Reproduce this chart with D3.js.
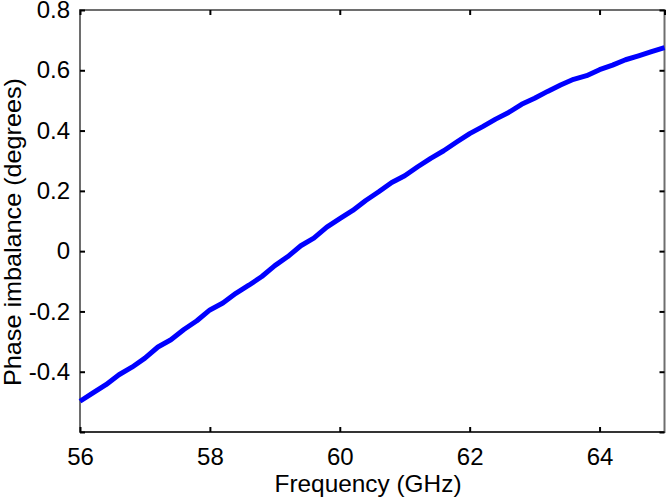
<!DOCTYPE html>
<html>
<head>
<meta charset="utf-8">
<script src="https://cdn.jsdelivr.net/npm/d3@7"></script>
<style>
  body { margin: 0; background: #fff; }
  svg { display: block; }
  .tick-label { font-family: "Liberation Sans", Arial, sans-serif; font-size: 24px; fill: #000; }
  .axis-title { font-family: "Liberation Sans", Arial, sans-serif; font-size: 24px; fill: #000; }
</style>
</head>
<body>
<div id="chart"></div>
<script>
// frequency (GHz) and phase imbalance (degrees)
const freq = [56.0, 56.2, 56.4, 56.6, 56.8, 57.0, 57.2, 57.4, 57.6, 57.8,
              58.0, 58.2, 58.4, 58.6, 58.8, 59.0, 59.2, 59.4, 59.6, 59.8,
              60.0, 60.2, 60.4, 60.6, 60.8, 61.0, 61.2, 61.4, 61.6, 61.8,
              62.0, 62.2, 62.4, 62.6, 62.8, 63.0, 63.2, 63.4, 63.6, 63.8,
              64.0, 64.2, 64.4, 64.6, 64.8, 65.0];
const phase = [-0.498, -0.470, -0.443, -0.410, -0.385, -0.355, -0.318, -0.294, -0.260, -0.231,
               -0.195, -0.172, -0.140, -0.113, -0.084, -0.048, -0.018, 0.018, 0.043, 0.080,
               0.108, 0.135, 0.168, 0.197, 0.228, 0.250, 0.280, 0.308, 0.333, 0.362,
               0.390, 0.413, 0.438, 0.460, 0.487, 0.507, 0.530, 0.551, 0.570, 0.582,
               0.602, 0.617, 0.635, 0.648, 0.662, 0.675];
const xTicks = [56, 58, 60, 62, 64];
const yTicks = [-0.4, -0.2, 0, 0.2, 0.4, 0.6, 0.8];
const yMarks = [-0.6, -0.4, -0.2, 0, 0.2, 0.4, 0.6, 0.8];

const WIDTH = 670;
const HEIGHT = 504;
const LEFT = 80, RIGHT = 664.5, TOP = 10, BOTTOM = 432;
const TICK_LEN = 5;

let data = freq.map((f, i) => ({f: f, v: phase[i]}));

let xScale = d3.scaleLinear().domain([56, 65]).range([LEFT, RIGHT]);
let yScale = d3.scaleLinear().domain([-0.6, 0.8]).range([BOTTOM, TOP]);

let svg = d3.select("#chart")
            .append("svg")
            .attr("width", WIDTH)
            .attr("height", HEIGHT);

// frame
svg.append("rect")
   .attr("x", LEFT)
   .attr("y", TOP)
   .attr("width", RIGHT - LEFT)
   .attr("height", BOTTOM - TOP)
   .attr("fill", "none")
   .attr("stroke", "#6e6e6e")
   .attr("stroke-width", 2);
svg.append("line")
   .attr("x1", LEFT).attr("x2", RIGHT)
   .attr("y1", BOTTOM).attr("y2", BOTTOM)
   .attr("stroke", "#222")
   .attr("stroke-width", 1.5);

// plain hyphen for negatives, like the original
let yFmt = d => d === 0 ? "0" : d.toFixed(1);

// axes with inward ticks
let gx = svg.append("g")
   .attr("transform", "translate(0," + BOTTOM + ")")
   .call(d3.axisBottom(xScale).tickValues(xTicks).tickSize(-TICK_LEN).tickPadding(16).tickFormat(d3.format("d")));
let gxt = svg.append("g")
   .attr("transform", "translate(0," + TOP + ")")
   .call(d3.axisTop(xScale).tickValues(xTicks.concat([65])).tickSize(-TICK_LEN).tickFormat(""));
let gy = svg.append("g")
   .attr("transform", "translate(" + LEFT + ",0)")
   .call(d3.axisLeft(yScale).tickValues(yTicks).tickSize(-TICK_LEN).tickPadding(10).tickFormat(yFmt));
let gyb = svg.append("g")
   .attr("transform", "translate(" + LEFT + ",0)")
   .call(d3.axisLeft(yScale).tickValues([-0.6]).tickSize(-TICK_LEN).tickFormat(""));
let gyr = svg.append("g")
   .attr("transform", "translate(" + RIGHT + ",0)")
   .call(d3.axisRight(yScale).tickValues(yMarks).tickSize(-TICK_LEN).tickFormat(""));

[gx, gxt, gy, gyb, gyr].forEach(g => {
    g.attr("font-size", null).attr("font-family", null);
    g.select(".domain").remove();
    g.selectAll(".tick line").attr("stroke", "#000").attr("stroke-width", 2);
    g.selectAll(".tick text").attr("class", "tick-label");
});

// data line
let line = d3.line()
             .x(d => xScale(d.f))
             .y(d => yScale(d.v));
svg.append("path")
   .datum(data)
   .attr("d", line)
   .attr("fill", "none")
   .attr("stroke", "#0000ff")
   .attr("stroke-width", 5)
   .attr("stroke-linejoin", "round");

// titles
svg.append("text")
   .attr("class", "axis-title")
   .attr("x", 368)
   .attr("y", 492)
   .attr("text-anchor", "middle")
   .attr("textLength", 187)
   .attr("lengthAdjust", "spacingAndGlyphs")
   .text("Frequency (GHz)");

svg.append("text")
   .attr("class", "axis-title")
   .attr("transform", "translate(21,232) rotate(-90)")
   .attr("text-anchor", "middle")
   .attr("textLength", 308)
   .attr("lengthAdjust", "spacingAndGlyphs")
   .text("Phase imbalance (degrees)");
</script>
</body>
</html>
